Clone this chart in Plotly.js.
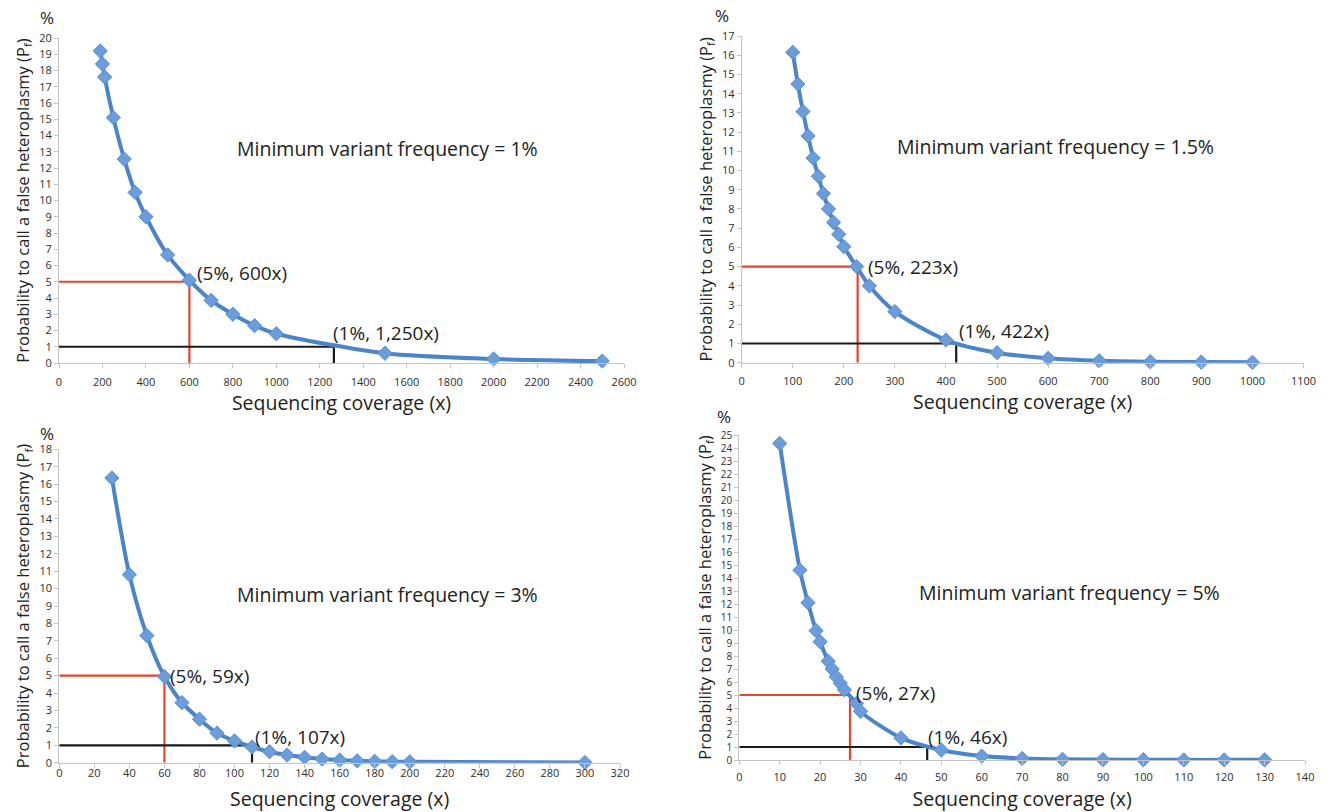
<!DOCTYPE html>
<html>
<head>
<meta charset="utf-8">
<script src="https://cdn.plot.ly/plotly-3.0.1.min.js"></script>
<style>html,body{margin:0;padding:0;background:#fff;}#chart{width:1331px;height:812px;}</style>
</head>
<body>
<div id="chart"></div>
<script>
// ---- data ----
const cov1 = [190,200,210,250,300,350,400,500,600,700,800,900,1000,1500,2000,2500];
const pf1  = [19.2,18.4,17.6,15.1,12.55,10.5,9.0,6.65,5.1,3.85,3.0,2.3,1.8,0.6,0.25,0.12];

const cov2 = [100,110,120,130,140,150,160,170,180,190,200,225,250,300,400,500,600,700,800,900,1000];
const pf2  = [16.15,14.5,13.07,11.8,10.65,9.7,8.8,8.0,7.3,6.68,6.04,5.0,4.0,2.66,1.18,0.52,0.23,0.1,0.05,0.03,0.02];

const cov3 = [30,40,50,60,70,80,90,100,110,120,130,140,150,160,170,180,190,200,300];
const pf3  = [16.35,10.8,7.3,4.95,3.45,2.5,1.7,1.25,0.9,0.63,0.44,0.31,0.21,0.15,0.11,0.08,0.06,0.05,0.01];

const cov4 = [10,15,17,19,20,22,23,24,25,26,29,30,40,50,60,70,80,90,100,110,120,130];
const pf4  = [24.35,14.6,12.1,9.95,9.1,7.6,7.0,6.4,5.9,5.4,4.35,3.75,1.7,0.77,0.3,0.12,0.05,0.03,0.02,0.01,0.01,0.01];

const minFreq   = ["1%", "1.5%", "3%", "5%"];
const thr5Cov   = [600, 227, 60, 27.4];     // where the 5% guide line drops
const thr1Cov   = [1265, 420, 110, 46.5];   // where the 1% guide line drops
const thr5Label = ["(5%, 600x)", "(5%, 223x)", "(5%, 59x)", "(5%, 27x)"];
const thr1Label = ["(1%, 1,250x)", "(1%, 422x)", "(1%, 107x)", "(1%, 46x)"];
const xMax  = [2600, 1100, 320, 140];
const xStep = [200, 100, 20, 10];
const yMax  = [20, 17, 18, 25];

// ---- layout geometry (pixels) ----
const W = 1331, H = 812;
const px = v => v / W;
const py = v => 1 - v / H;
// plot area boxes [left, right, top, bottom]
const boxes = [
  [59, 624, 38, 363],
  [741.7, 1303.5, 36, 362.7],
  [59.3, 620, 449.3, 762.7],
  [739.3, 1305, 435, 760]
];
const fontFam = '"Open Sans", "DejaVu Sans", sans-serif';
const txtCol = '#222222';

const covs = [cov1, cov2, cov3, cov4];
const pfs  = [pf1, pf2, pf3, pf4];

const traces = [];
const layout = {
  width: W, height: H,
  margin: {l: 0, r: 0, t: 0, b: 0},
  paper_bgcolor: '#ffffff',
  plot_bgcolor: 'rgba(0,0,0,0)',
  showlegend: false,
  font: {family: fontFam, color: txtCol},
  annotations: []
};

const tickLabelStandoffX = [5, 4, -4, 3];
const xTitleStandoff = [5, 6, 14, 13];
const yTickFont = [11, 11, 11, 10];

for (let i = 0; i < 4; i++) {
  const n = i + 1;
  const xa = 'x' + (n === 1 ? '' : n);
  const ya = 'y' + (n === 1 ? '' : n);
  const b = boxes[i];

  // red 5% guide
  traces.push({
    x: [0, thr5Cov[i], thr5Cov[i]], y: [5, 5, 0],
    xaxis: xa, yaxis: ya, mode: 'lines', hoverinfo: 'skip',
    line: {color: '#e8432b', width: 2.2}, cliponaxis: false
  });
  // black 1% guide
  traces.push({
    x: [0, thr1Cov[i], thr1Cov[i]], y: [1, 1, 0],
    xaxis: xa, yaxis: ya, mode: 'lines', hoverinfo: 'skip',
    line: {color: '#1a1a1a', width: 2.2}, cliponaxis: false
  });
  // probability curve
  traces.push({
    x: covs[i], y: pfs[i], xaxis: xa, yaxis: ya,
    mode: 'lines+markers', cliponaxis: false,
    line: {color: '#4a84c9', width: 4, shape: 'spline', smoothing: 0.8},
    marker: {symbol: 'diamond', size: 11, color: '#6b9ddb', line: {color: '#5a8fd2', width: 1}}
  });

  const axCommon = {
    showgrid: false, zeroline: false, showline: true,
    linecolor: '#c4c4c4', linewidth: 1,
    ticks: 'outside', ticklen: 4, tickcolor: '#c4c4c4', tickwidth: 1,
    automargin: false, fixedrange: true
  };
  layout['xaxis' + (n === 1 ? '' : n)] = Object.assign({}, axCommon, {
    domain: [px(b[0]), px(b[1])], anchor: ya,
    range: [0, xMax[i]], tick0: 0, dtick: xStep[i],
    tickfont: {size: 11, color: '#2e2e2e', family: fontFam},
    ticklabelstandoff: tickLabelStandoffX[i],
    title: {text: 'Sequencing coverage (x)', font: {size: 19.5, color: txtCol, family: fontFam}, standoff: xTitleStandoff[i]}
  });
  layout['yaxis' + (n === 1 ? '' : n)] = Object.assign({}, axCommon, {
    domain: [py(b[3]), py(b[2])], anchor: xa,
    range: [0, yMax[i]], tick0: 0, dtick: 1,
    tickfont: {size: yTickFont[i], color: '#2e2e2e', family: fontFam},
    title: {text: 'Probability to call a false heteroplasmy (P<sub>f</sub>)', font: {size: 16.5, color: txtCol, family: fontFam}, standoff: 5}
  });
}

// text annotations (pixel positions)
const pctPos   = [[47, 17], [722, 16], [47, 433], [724, 417]];
const freqPos  = [[235, 148], [895, 147], [235, 594], [917, 592]];
const lab5Pos  = [[195, 273], [866, 267], [168, 676], [854, 693]];
const lab1Pos  = [[331, 333], [957, 331], [253, 737], [926, 737]];

for (let i = 0; i < 4; i++) {
  layout.annotations.push({
    xref: 'paper', yref: 'paper', x: px(pctPos[i][0]), y: py(pctPos[i][1]),
    xanchor: 'center', yanchor: 'middle', showarrow: false,
    text: '%', font: {size: 17, color: txtCol}
  });
  layout.annotations.push({
    xref: 'paper', yref: 'paper', x: px(freqPos[i][0]), y: py(freqPos[i][1]),
    xanchor: 'left', yanchor: 'middle', showarrow: false,
    text: 'Minimum variant frequency = ' + minFreq[i], font: {size: 19.5, color: txtCol}
  });
  layout.annotations.push({
    xref: 'paper', yref: 'paper', x: px(lab5Pos[i][0]), y: py(lab5Pos[i][1]),
    xanchor: 'left', yanchor: 'middle', showarrow: false,
    text: thr5Label[i], font: {size: 19, color: txtCol}
  });
  layout.annotations.push({
    xref: 'paper', yref: 'paper', x: px(lab1Pos[i][0]), y: py(lab1Pos[i][1]),
    xanchor: 'left', yanchor: 'middle', showarrow: false,
    text: thr1Label[i], font: {size: 19, color: txtCol}
  });
}

Plotly.newPlot('chart', traces, layout, {displayModeBar: false, staticPlot: true});
</script>
</body>
</html>
